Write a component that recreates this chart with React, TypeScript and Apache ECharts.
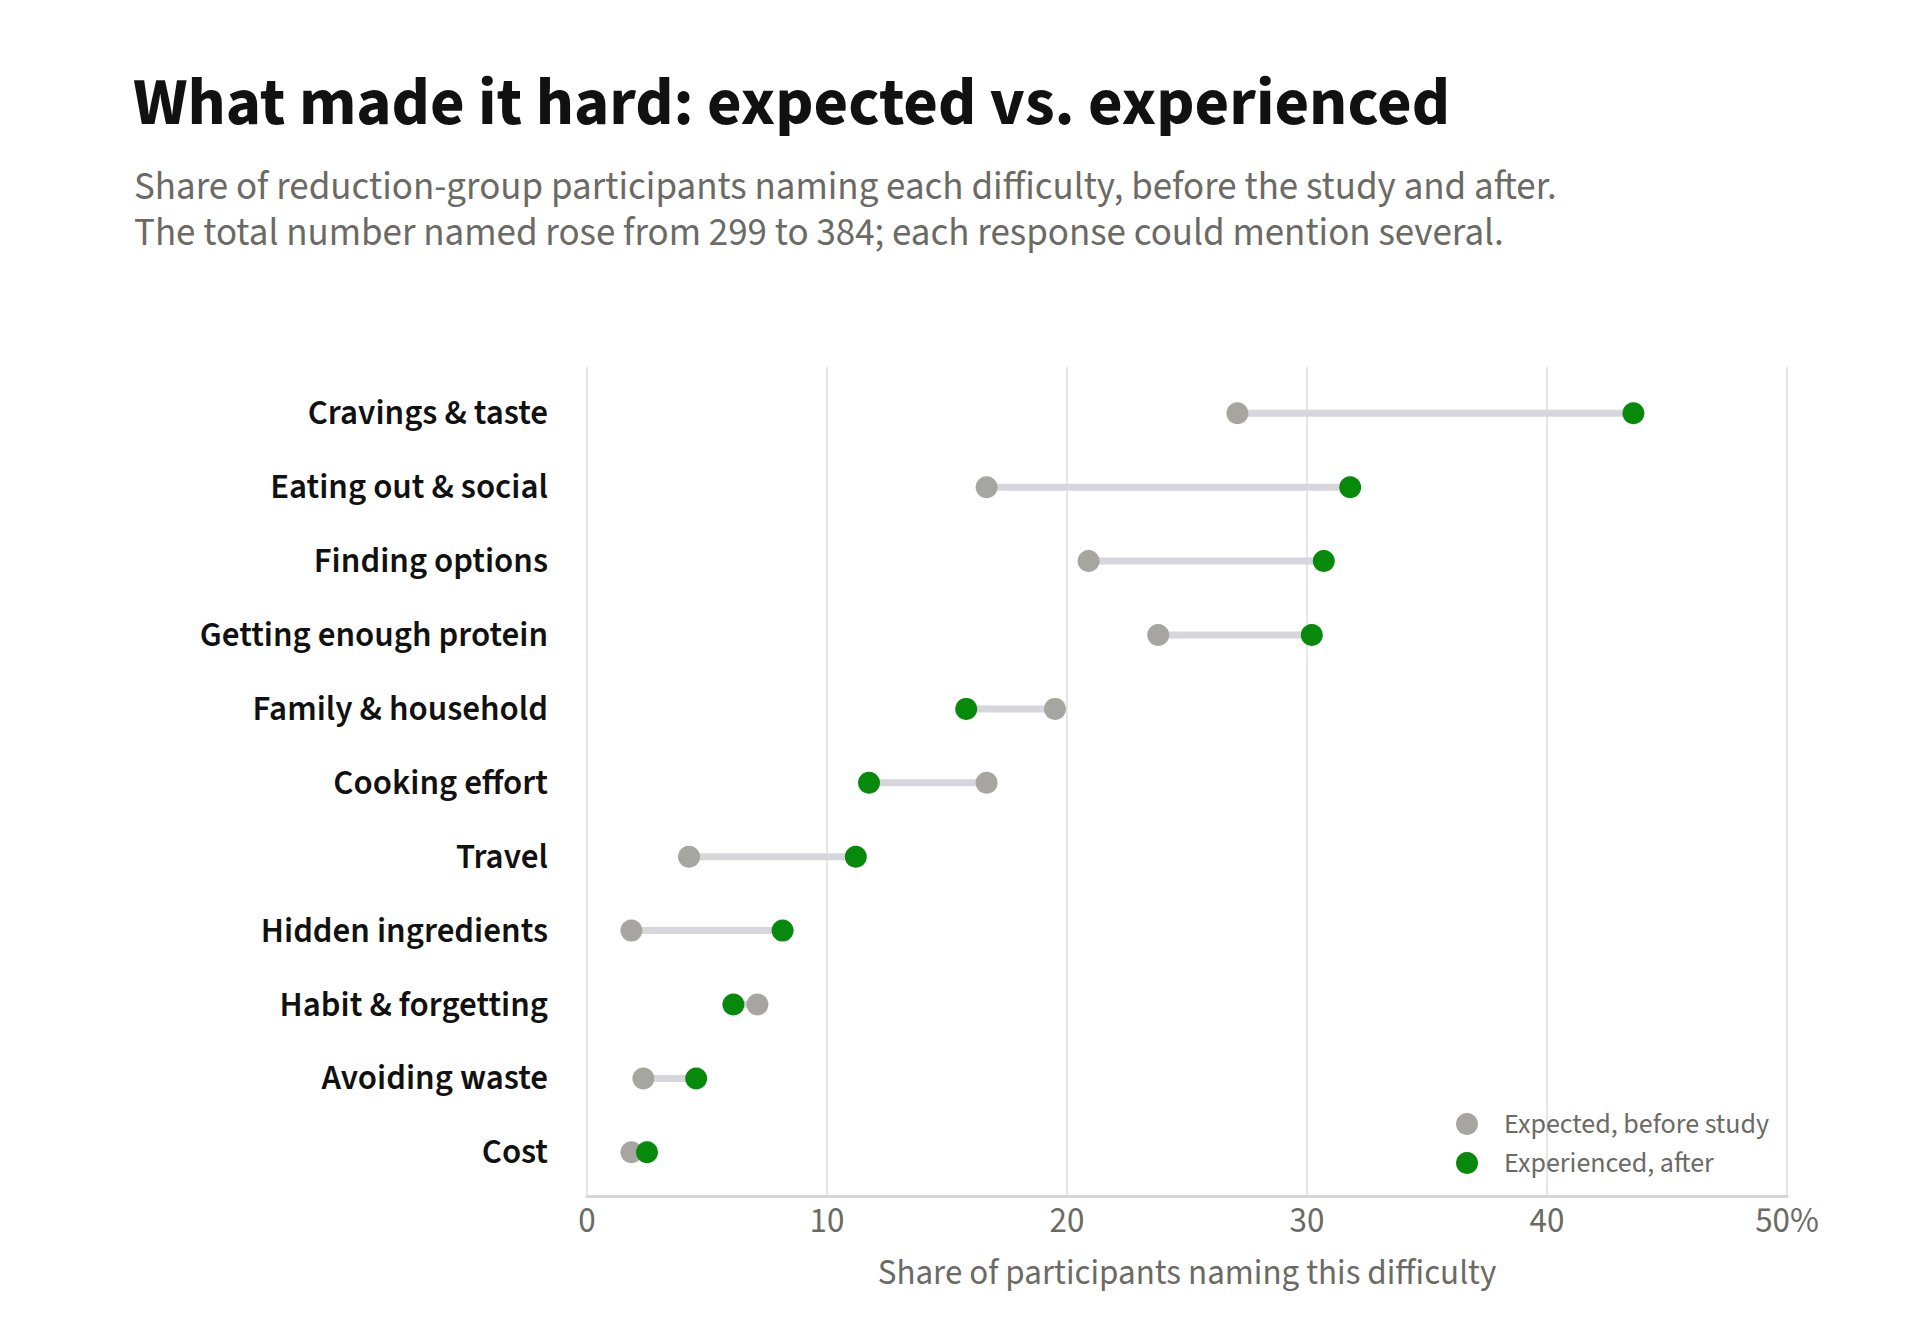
import React, { useEffect, useRef } from "react";
import * as echarts from "echarts";

const TITLE = "What made it hard: expected vs. experienced";
const SUBTITLE_LINES = [
  "Share of reduction-group participants naming each difficulty, before the study and after.",
  "The total number named rose from 299 to 384; each response could mention several.",
];
const X_AXIS_NAME = "Share of participants naming this difficulty";

const categories = [
  "Cravings & taste",
  "Eating out & social",
  "Finding options",
  "Getting enough protein",
  "Family & household",
  "Cooking effort",
  "Travel",
  "Hidden ingredients",
  "Habit & forgetting",
  "Avoiding waste",
  "Cost",
];
const expected = [27.1, 16.65, 20.9, 23.8, 19.5, 16.65, 4.25, 1.85, 7.1, 2.35, 1.85];
const experienced = [43.6, 31.8, 30.7, 30.2, 15.8, 11.75, 11.2, 8.15, 6.1, 4.55, 2.5];
const xTicks = [0, 10, 20, 30, 40, 50];
const seriesNames = ["Expected, before study", "Experienced, after"];

const FONT = "'Source Sans 3', 'Source Sans Pro', Lato, sans-serif";
const GRAY = "#a6a5a0";
const GREEN = "#078a0c";
const MUTED = "#6b6a65";

export default function App() {
  const ref = useRef<HTMLDivElement>(null);
  useEffect(() => {
    if (!ref.current) return;
    const chart = echarts.init(ref.current, null, { renderer: "svg" });
    const left = 587;
    const right = 1920 - 1787;
    chart.setOption({
      animation: false,
      backgroundColor: "#ffffff",
      textStyle: { fontFamily: FONT },
      title: [
        {
          text: TITLE,
          left: 133,
          top: 69.5,
          padding: 0,
          textStyle: { fontFamily: FONT, fontSize: 67, lineHeight: 67, fontWeight: "bold", color: "#111111" },
        },
        {
          text: SUBTITLE_LINES[0],
          left: 134,
          top: 167.5,
          padding: 0,
          textStyle: { fontFamily: FONT, fontSize: 39, fontWeight: "normal", color: MUTED, lineHeight: 39 },
        },
        {
          text: SUBTITLE_LINES[1],
          left: 134,
          top: 213.5,
          padding: 0,
          textStyle: { fontFamily: FONT, fontSize: 39, fontWeight: "normal", color: MUTED, lineHeight: 39 },
        },
      ],
      legend: {
        orient: "vertical",
        left: 1456,
        top: 1110,
        padding: 0,
        icon: "circle",
        itemWidth: 22,
        itemHeight: 22,
        itemGap: 11,
        data: seriesNames,
        textStyle: { fontFamily: FONT, fontSize: 28, lineHeight: 28, color: MUTED, padding: [0, 0, 0, 21] },
      },
      grid: [
        { left, right, top: 376.3, bottom: 1341 - 1189.3 },
        { left, right, top: 367, bottom: 1341 - 1196 },
      ],
      xAxis: [
        { type: "value", gridIndex: 0, min: 0, max: 50, show: false },
        {
          type: "value",
          gridIndex: 1,
          min: xTicks[0],
          max: xTicks[xTicks.length - 1],
          interval: 10,
          axisLine: { show: true, lineStyle: { color: "#d6d6dc", width: 3 } },
          axisTick: { show: false },
          splitLine: { show: true, lineStyle: { color: "#e6e6e6", width: 2 } },
          axisLabel: {
            margin: 7,
            fontFamily: FONT,
            fontSize: 35,
            color: MUTED,
            formatter: (v: number) => (v === 50 ? "50%" : String(v)),
          },
          name: X_AXIS_NAME,
          nameLocation: "middle",
          nameGap: 59,
          nameTextStyle: { fontFamily: FONT, fontSize: 35, color: MUTED },
        },
      ],
      yAxis: [
        {
          type: "category",
          gridIndex: 0,
          inverse: true,
          data: categories,
          axisLine: { show: false },
          axisTick: { show: false },
          splitLine: { show: false },
          axisLabel: {
            margin: 39,
            fontFamily: FONT,
            fontSize: 35,
            fontWeight: 600,
            color: "#111111",
            padding: [0, 0, 4, 0],
          },
        },
        { type: "value", gridIndex: 1, show: false, min: 0, max: 1 },
      ],
      series: [
        {
          type: "custom",
          xAxisIndex: 0,
          yAxisIndex: 0,
          silent: true,
          encode: { x: [0, 1], y: 2 },
          data: categories.map((c, i) => [expected[i], experienced[i], c]),
          renderItem: (params: any, api: any) => {
            const y = api.value(2);
            const p1 = api.coord([api.value(0), y]);
            const p2 = api.coord([api.value(1), y]);
            return {
              type: "line",
              shape: { x1: p1[0], y1: p1[1], x2: p2[0], y2: p2[1] },
              style: { stroke: "#d6d6dc", lineWidth: 7 },
            };
          },
          z: 1,
        },
        {
          name: seriesNames[0],
          type: "scatter",
          xAxisIndex: 0,
          yAxisIndex: 0,
          symbol: "circle",
          symbolSize: 22,
          itemStyle: { color: GRAY, opacity: 1 },
          data: categories.map((c, i) => [expected[i], c]),
          z: 2,
        },
        {
          name: seriesNames[1],
          type: "scatter",
          xAxisIndex: 0,
          yAxisIndex: 0,
          symbol: "circle",
          symbolSize: 22,
          itemStyle: { color: GREEN, opacity: 1 },
          data: categories.map((c, i) => [experienced[i], c]),
          z: 3,
        },
      ],
    });
    return () => chart.dispose();
  }, []);
  return (
    <div
      ref={ref}
      style={{ position: "absolute", left: 0, top: 0, width: 1920, height: 1341 }}
    />
  );
}
